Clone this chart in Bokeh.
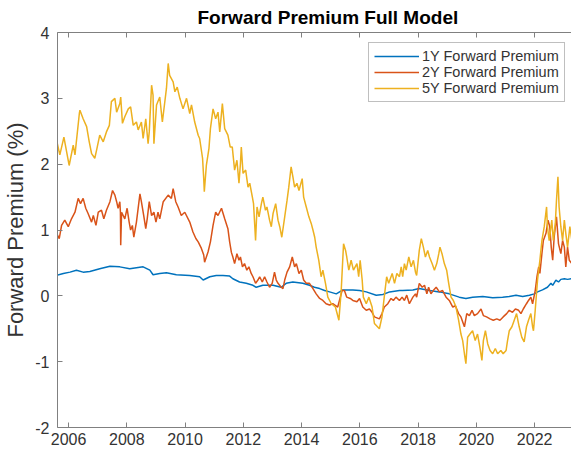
from bokeh.plotting import figure
from bokeh.models import FixedTicker, LinearAxis, Legend, LegendItem, Range1d
from bokeh.embed import file_html
from bokeh.resources import INLINE

# ---- data ----
years_5y = [2005.59, 2005.70, 2005.84, 2006.02, 2006.16, 2006.22, 2006.37, 2006.39, 2006.50, 2006.62,
            2006.71, 2006.79, 2006.90, 2006.96, 2007.07, 2007.19, 2007.30, 2007.40, 2007.47, 2007.59,
            2007.65, 2007.76, 2007.79, 2007.85, 2007.93, 2008.05, 2008.13, 2008.22, 2008.33, 2008.39,
            2008.50, 2008.56, 2008.65, 2008.73, 2008.77, 2008.85, 2008.90, 2008.93, 2009.02, 2009.13,
            2009.22, 2009.36, 2009.42, 2009.47, 2009.59, 2009.65, 2009.73, 2009.82, 2009.93, 2010.05,
            2010.16, 2010.22, 2010.33, 2010.45, 2010.50, 2010.60, 2010.64, 2010.66, 2010.73, 2010.82,
            2010.87, 2010.96, 2011.05, 2011.13, 2011.19, 2011.28, 2011.36, 2011.47, 2011.55, 2011.62,
            2011.70, 2011.78, 2011.85, 2011.90, 2011.93, 2011.99, 2012.08, 2012.16, 2012.22, 2012.31,
            2012.35, 2012.42, 2012.47, 2012.54, 2012.62, 2012.67, 2012.76, 2012.81, 2012.90, 2012.96,
            2013.02, 2013.11, 2013.19, 2013.25, 2013.32, 2013.42, 2013.50, 2013.56, 2013.64, 2013.70,
            2013.76, 2013.84, 2013.91, 2014.02, 2014.07, 2014.16, 2014.25, 2014.33, 2014.39, 2014.45,
            2014.50, 2014.59, 2014.67, 2014.73, 2014.82, 2014.90, 2015.02, 2015.16, 2015.28, 2015.36,
            2015.44, 2015.51, 2015.55, 2015.62, 2015.70, 2015.78, 2015.90, 2015.96, 2016.01, 2016.08,
            2016.12, 2016.22, 2016.31, 2016.42, 2016.50, 2016.67, 2016.76, 2016.85, 2016.92, 2016.99,
            2017.11, 2017.19, 2017.27, 2017.36, 2017.42, 2017.47, 2017.53, 2017.59, 2017.68, 2017.76,
            2017.84, 2017.91, 2017.95, 2018.04, 2018.11, 2018.18, 2018.25, 2018.33, 2018.39, 2018.48,
            2018.56, 2018.64, 2018.71, 2018.75, 2018.82, 2018.90, 2018.98, 2019.05, 2019.13, 2019.21,
            2019.30, 2019.39, 2019.47, 2019.53, 2019.59, 2019.64, 2019.70, 2019.78, 2019.87, 2019.96,
            2020.04, 2020.12, 2020.19, 2020.24, 2020.31, 2020.39, 2020.47, 2020.56, 2020.65, 2020.73,
            2020.84, 2020.92, 2021.02, 2021.07, 2021.13, 2021.22, 2021.30, 2021.38, 2021.47, 2021.56,
            2021.64, 2021.72, 2021.79, 2021.87, 2021.93, 2021.96, 2022.02, 2022.10, 2022.18, 2022.25,
            2022.33, 2022.41, 2022.44, 2022.50, 2022.59, 2022.64, 2022.71, 2022.75, 2022.80, 2022.84,
            2022.90, 2022.96, 2023.02, 2023.07, 2023.13, 2023.21, 2023.28]
vals_5y = [2.36, 2.14, 2.41, 1.98, 2.29, 2.14, 2.77, 2.82, 2.69, 2.57,
           2.34, 2.16, 2.09, 2.21, 2.44, 2.34, 2.49, 2.59, 2.95, 3.00,
           2.79, 2.92, 3.02, 2.62, 2.72, 2.84, 2.87, 2.59, 2.64, 2.52,
           2.64, 2.39, 2.69, 2.31, 2.49, 3.20, 3.05, 2.31, 2.90, 3.02,
           2.64, 3.15, 3.53, 3.35, 3.25, 3.10, 3.17, 3.00, 2.84, 3.00,
           2.77, 2.90, 2.64, 2.44, 2.39, 2.09, 1.78, 1.58, 1.98, 2.24,
           2.54, 2.84, 2.69, 2.79, 2.49, 2.92, 2.54, 2.44, 2.26, 2.26,
           1.91, 2.06, 1.71, 2.01, 2.26, 1.86, 1.91, 1.65, 1.71, 1.50,
           1.40, 0.84, 1.35, 1.20, 1.40, 1.50, 1.30, 1.35, 1.15, 1.05,
           1.25, 1.40, 1.15, 1.05, 0.89, 1.20, 1.45, 1.65, 1.96, 1.81,
           1.65, 1.71, 1.60, 1.78, 1.50, 1.35, 1.20, 1.10, 1.00, 0.89,
           0.74, 0.54, 0.29, 0.39, 0.19, -0.02, -0.12, -0.17, -0.37, 0.08,
           0.79, 0.69, 0.59, 0.39, 0.54, 0.39, 0.49, 0.29, 0.54, 0.24,
           -0.02, -0.12, -0.02, -0.17, -0.42, -0.50, -0.32, 0.03, 0.29, 0.19,
           0.34, 0.19, 0.34, 0.29, 0.44, 0.29, 0.49, 0.39, 0.59, 0.44,
           0.54, 0.36, 0.31, 0.69, 0.87, 0.74, 0.59, 0.69, 0.59, 0.49,
           0.39, 0.49, 0.64, 0.74, 0.64, 0.49, 0.39, 0.19, -0.02, -0.07,
           -0.17, -0.37, -0.58, -0.68, -0.88, -1.03, -0.63, -0.58, -0.53, -0.68,
           -0.58, -0.78, -0.98, -0.68, -0.53, -0.73, -0.83, -0.88, -0.80, -0.88,
           -0.83, -0.88, -0.83, -0.68, -0.53, -0.47, -0.37, -0.27, -0.47, -0.63,
           -0.70, -0.47, -0.37, -0.27, -0.47, -0.53, -0.22, 0.24, 0.54, 0.84,
           1.05, 1.35, 1.05, 0.84, 1.15, 0.84, 1.10, 1.45, 1.81, 1.35,
           1.05, 0.84, 1.15, 0.95, 0.74, 1.05, 0.84]

years_2y = [2005.59, 2005.68, 2005.76, 2005.87, 2005.99, 2006.10, 2006.22, 2006.33, 2006.41, 2006.50,
            2006.59, 2006.67, 2006.79, 2006.85, 2006.94, 2007.02, 2007.13, 2007.21, 2007.30, 2007.42,
            2007.51, 2007.59, 2007.65, 2007.70, 2007.76, 2007.78, 2007.79, 2007.82, 2007.93, 2008.01,
            2008.08, 2008.13, 2008.19, 2008.24, 2008.33, 2008.45, 2008.50, 2008.58, 2008.65, 2008.70,
            2008.77, 2008.85, 2008.93, 2009.00, 2009.07, 2009.13, 2009.25, 2009.42, 2009.53, 2009.59,
            2009.68, 2009.76, 2009.87, 2009.99, 2010.16, 2010.27, 2010.37, 2010.45, 2010.56, 2010.64,
            2010.67, 2010.79, 2010.87, 2010.96, 2011.05, 2011.13, 2011.25, 2011.36, 2011.47, 2011.53,
            2011.59, 2011.64, 2011.70, 2011.78, 2011.85, 2011.90, 2011.97, 2012.04, 2012.12, 2012.19,
            2012.27, 2012.33, 2012.42, 2012.50, 2012.56, 2012.65, 2012.73, 2012.81, 2012.90, 2012.99,
            2013.07, 2013.13, 2013.19, 2013.30, 2013.36, 2013.42, 2013.50, 2013.59, 2013.68, 2013.76,
            2013.82, 2013.91, 2013.99, 2014.07, 2014.16, 2014.27, 2014.39, 2014.50, 2014.62, 2014.73,
            2014.84, 2014.96, 2015.07, 2015.24, 2015.39, 2015.47, 2015.55, 2015.67, 2015.76, 2015.90,
            2015.99, 2016.10, 2016.22, 2016.33, 2016.42, 2016.50, 2016.67, 2016.76, 2016.84, 2016.96,
            2017.07, 2017.15, 2017.24, 2017.36, 2017.45, 2017.53, 2017.61, 2017.70, 2017.82, 2017.91,
            2017.95, 2018.04, 2018.14, 2018.22, 2018.30, 2018.36, 2018.44, 2018.52, 2018.62, 2018.73,
            2018.84, 2018.96, 2019.07, 2019.19, 2019.28, 2019.39, 2019.47, 2019.59, 2019.67, 2019.76,
            2019.85, 2019.93, 2020.04, 2020.16, 2020.24, 2020.35, 2020.47, 2020.58, 2020.70, 2020.81,
            2020.92, 2021.04, 2021.13, 2021.24, 2021.34, 2021.45, 2021.53, 2021.61, 2021.72, 2021.79,
            2021.87, 2021.93, 2022.02, 2022.08, 2022.14, 2022.18, 2022.25, 2022.30, 2022.39, 2022.46,
            2022.52, 2022.57, 2022.62, 2022.67, 2022.75, 2022.82, 2022.90, 2022.96, 2023.02, 2023.07,
            2023.13, 2023.19, 2023.28]
vals_2y = [0.95, 0.87, 1.07, 1.15, 1.05, 1.17, 1.27, 1.48, 1.40, 1.48,
           1.33, 1.25, 1.12, 1.22, 1.07, 1.27, 1.30, 1.17, 1.30, 1.43,
           1.60, 1.53, 1.43, 1.33, 1.43, 1.27, 0.77, 1.27, 1.17, 1.33,
           1.12, 1.00, 1.07, 0.89, 1.12, 1.55, 1.43, 1.22, 1.02, 1.17,
           1.43, 1.22, 1.27, 1.12, 1.27, 1.17, 1.43, 1.53, 1.48, 1.63,
           1.43, 1.35, 1.22, 1.27, 1.12, 0.97, 0.87, 0.82, 0.72, 0.62,
           0.51, 0.67, 0.82, 1.07, 1.27, 1.22, 1.33, 1.17, 1.02, 0.82,
           0.66, 0.59, 0.49, 0.64, 0.54, 0.59, 0.44, 0.49, 0.39, 0.44,
           0.34, 0.29, 0.19, 0.24, 0.29, 0.21, 0.29, 0.21, 0.13, 0.19,
           0.36, 0.24, 0.19, 0.13, 0.11, 0.24, 0.36, 0.44, 0.59, 0.44,
           0.49, 0.34, 0.39, 0.24, 0.19, 0.19, 0.11, 0.03, -0.04, -0.07,
           -0.12, -0.14, -0.12, -0.17, 0.08, 0.08, -0.02, -0.04, -0.07, -0.09,
           -0.04, -0.17, -0.22, -0.20, -0.25, -0.32, -0.35, -0.27, -0.17, -0.12,
           -0.04, -0.07, -0.02, -0.07, -0.02, -0.07, 0.01, -0.12, -0.02, 0.03,
           -0.02, 0.19, 0.13, 0.16, 0.03, 0.13, 0.03, 0.08, 0.13, 0.06,
           0.08, -0.02, -0.07, -0.17, -0.15, -0.27, -0.32, -0.47, -0.27, -0.30,
           -0.22, -0.30, -0.27, -0.20, -0.30, -0.32, -0.35, -0.37, -0.35, -0.37,
           -0.32, -0.27, -0.22, -0.25, -0.20, -0.22, -0.27, -0.20, -0.12, -0.07,
           -0.02, -0.12, 0.08, 0.29, 0.44, 0.34, 0.64, 0.84, 0.95, 1.15,
           1.05, 0.74, 0.54, 0.89, 1.20, 0.79, 0.64, 0.84, 0.74, 0.44,
           0.74, 0.54, 0.49]

years_1y = [2005.59, 2005.82, 2006.05, 2006.27, 2006.50, 2006.73, 2007.07, 2007.42, 2007.76, 2008.10,
            2008.56, 2008.79, 2008.90, 2009.13, 2009.36, 2009.70, 2010.16, 2010.50, 2010.62, 2010.85,
            2011.07, 2011.30, 2011.53, 2011.64, 2011.87, 2012.10, 2012.33, 2012.44, 2012.67, 2013.02,
            2013.30, 2013.47, 2013.70, 2014.04, 2014.27, 2014.44, 2014.62, 2014.79, 2014.96, 2015.19,
            2015.42, 2015.76, 2015.99, 2016.22, 2016.56, 2016.79, 2017.02, 2017.36, 2017.47, 2017.82,
            2018.04, 2018.39, 2018.73, 2019.07, 2019.41, 2019.64, 2019.87, 2020.22, 2020.56, 2020.90,
            2021.13, 2021.36, 2021.59, 2021.82, 2021.99, 2022.10, 2022.27, 2022.44, 2022.56, 2022.62,
            2022.73, 2022.82, 2022.90, 2023.02, 2023.13, 2023.28]
vals_1y = [0.31, 0.34, 0.36, 0.39, 0.36, 0.37, 0.41, 0.45, 0.44, 0.41,
           0.44, 0.39, 0.32, 0.34, 0.35, 0.32, 0.31, 0.29, 0.24, 0.29,
           0.31, 0.31, 0.30, 0.26, 0.21, 0.19, 0.16, 0.13, 0.16, 0.16,
           0.13, 0.19, 0.21, 0.19, 0.16, 0.13, 0.11, 0.08, 0.06, 0.03,
           0.09, 0.09, 0.08, 0.06, 0.01, 0.02, 0.06, 0.08, 0.08, 0.09,
           0.11, 0.08, 0.06, 0.03, -0.02, -0.04, -0.02, -0.01, -0.03, -0.02,
           -0.01, 0.01, -0.01, 0.01, 0.03, 0.06, 0.09, 0.13, 0.19, 0.16,
           0.24, 0.21, 0.25, 0.26, 0.25, 0.26]

x_ticks = [2006, 2008, 2010, 2012, 2014, 2016, 2018, 2020, 2022]
y_ticks = [-2, -1, 0, 1, 2, 3, 4]
y_tick_labels = {-2: "-2", -1: "-1", 0: "0", 1: "1", 2: "2", 3: "3", 4: "4"}
series_names = ["1Y Forward Premium", "2Y Forward Premium", "5Y Forward Premium"]
series_colors = ["#0072BD", "#D95319", "#EDB120"]

FONT = "Liberation Sans"
AXIS_GRAY = "#808080"
TEXT = "#333333"

p = figure(frame_width=515, frame_height=395, output_backend="svg", toolbar_location=None,
           x_range=Range1d(2005.62, 2023.30), y_range=Range1d(-2, 4),
           min_border_left=0, min_border_right=0, min_border_top=0, min_border_bottom=0,
           title="Forward Premium Full Model", x_axis_type=None, y_axis_type=None)
p.outline_line_color = None
p.background_fill_color = "white"
p.border_fill_color = "white"

p.title.text_font = FONT
p.title.text_font_size = "19px"
p.title.text_font_style = "bold"
p.title.text_color = "#000000"
p.title.align = "left"
p.title.offset = 140
p.title.standoff = 9

def style_axis(ax, show_labels=True):
    ax.axis_line_color = AXIS_GRAY
    ax.axis_line_width = 1
    ax.major_tick_line_color = AXIS_GRAY
    ax.major_tick_in = 5
    ax.major_tick_out = 0
    ax.minor_tick_line_color = None
    ax.major_label_text_font = FONT
    ax.major_label_text_color = TEXT
    if show_labels:
        ax.major_label_text_font_size = "16px"
    else:
        ax.major_label_text_font_size = "0px"
        ax.major_label_standoff = 0
        ax.major_label_overrides = {t: "" for t in x_ticks}

xb = LinearAxis(ticker=FixedTicker(ticks=x_ticks))
style_axis(xb)
xb.major_label_standoff = 5
p.add_layout(xb, "below")

xt = LinearAxis(ticker=FixedTicker(ticks=x_ticks))
style_axis(xt, show_labels=False)
p.add_layout(xt, "above")

yl = LinearAxis(ticker=FixedTicker(ticks=y_ticks))
style_axis(yl)
yl.major_label_overrides = y_tick_labels
yl.major_label_standoff = 8
yl.axis_label = "Forward Premium (%)"
yl.axis_label_text_font = FONT
yl.axis_label_text_font_size = "22px"
yl.axis_label_text_font_style = "normal"
yl.axis_label_text_color = TEXT
yl.axis_label_standoff = 4
p.add_layout(yl, "left")

r1 = p.line(years_1y, vals_1y, line_color=series_colors[0], line_width=1.5)
r2 = p.line(years_2y, vals_2y, line_color=series_colors[1], line_width=1.5)
r5 = p.line(years_5y, vals_5y, line_color=series_colors[2], line_width=1.5)

legend = Legend(items=[LegendItem(label=series_names[0], renderers=[r1]),
                       LegendItem(label=series_names[1], renderers=[r2]),
                       LegendItem(label=series_names[2], renderers=[r5])],
                location=(311, 325))
legend.label_text_font = FONT
legend.label_text_font_size = "14.5px"
legend.label_text_color = TEXT
legend.border_line_color = AXIS_GRAY
legend.border_line_width = 1
legend.background_fill_color = "white"
legend.background_fill_alpha = 1
legend.padding = 5
legend.spacing = 0
legend.margin = 0
legend.glyph_width = 45
legend.glyph_height = 16
legend.label_height = 16
legend.label_standoff = 3
legend.label_text_baseline = "middle"
p.add_layout(legend, "center")

open("out.html", "w").write(file_html(p, INLINE))
